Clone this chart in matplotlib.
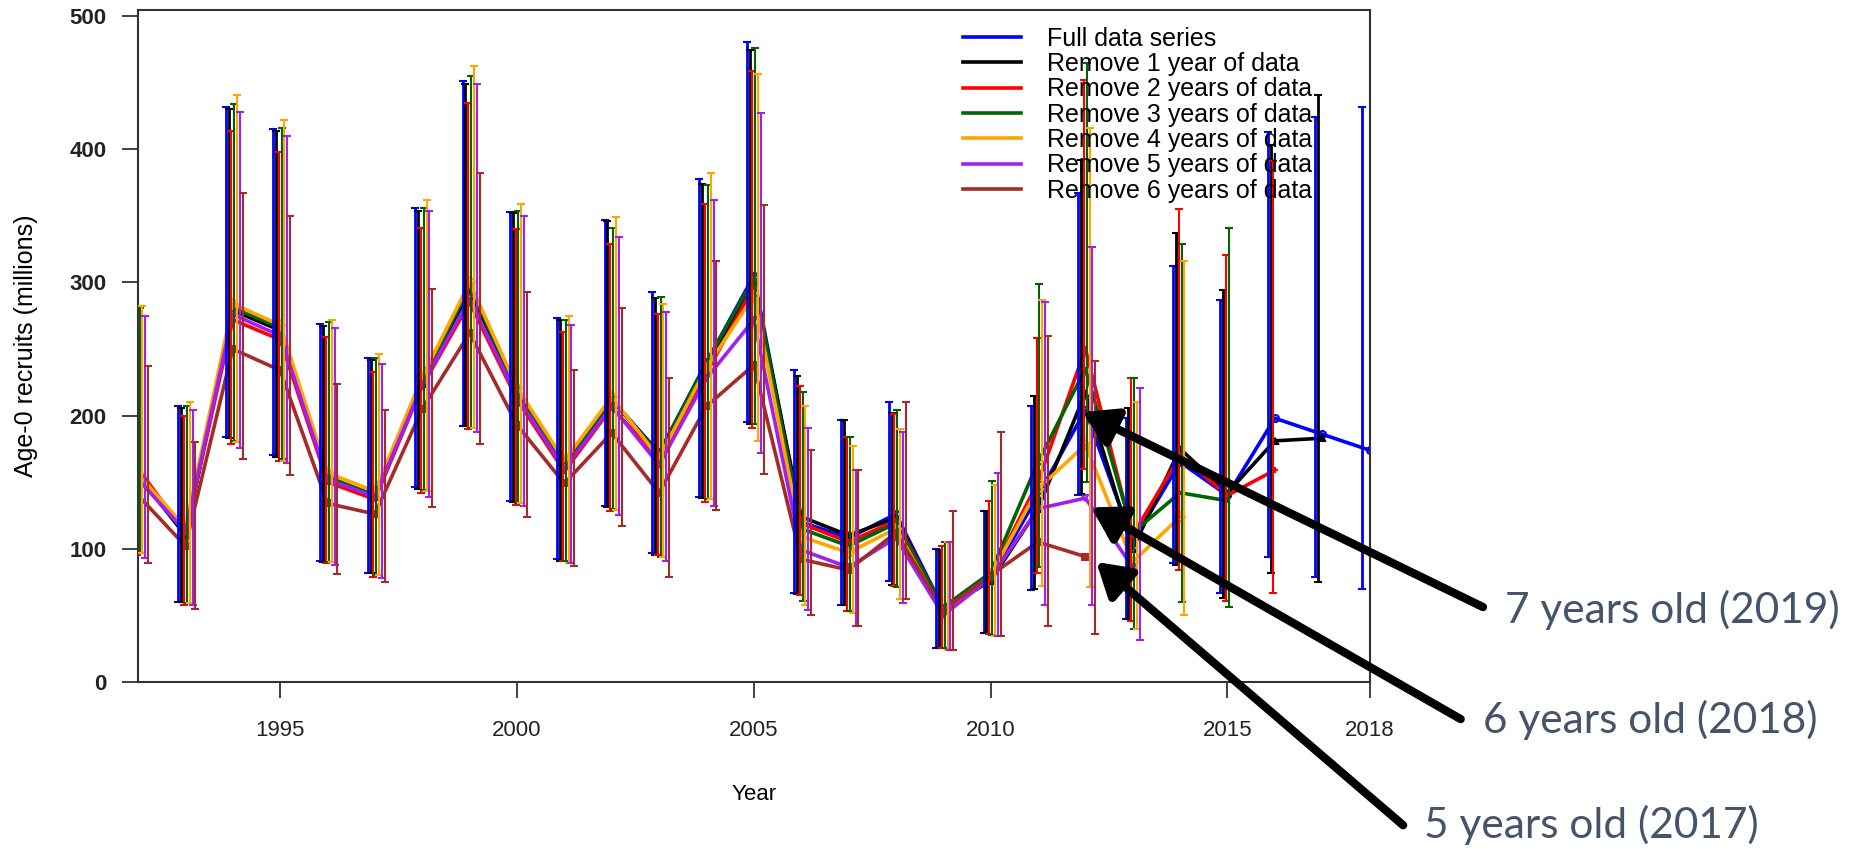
import numpy as np
import matplotlib.pyplot as plt

# years of the full series
years = np.arange(1992, 2019)

# Full data series
full_mid = [155, 110, 280, 265, 153, 140, 225, 296, 218, 163, 212, 172, 240, 305, 120, 108, 126, 55, 78, 140, 204, 105, 165, 140, 198, 186, 174]
full_hi = [282, 207, 432, 415, 269, 243, 356, 451, 353, 273, 347, 293, 378, 481, 234, 197, 210, 100, 128, 207, 367, 198, 312, 287, 413, 424, 432]
full_lo = [97, 60, 184, 170, 91, 82, 146, 192, 136, 92, 132, 97, 139, 195, 67, 58, 76, 25, 37, 69, 140, 47, 89, 67, 94, 79, 70]

# Remove 1 year
rm1_mid = [156, 110, 279, 264, 152, 139, 224, 294, 217, 163, 212, 171, 238, 300, 124, 110, 123, 54, 76, 130, 217, 100, 175, 142, 181, 183]
rm1_hi = [281, 206, 430, 414, 267, 242, 354, 449, 352, 272, 346, 288, 374, 475, 230, 197, 202, 99, 128, 215, 392, 206, 337, 294, 403, 441]
rm1_lo = [97, 60, 183, 169, 90, 82, 145, 192, 135, 91, 131, 95, 138, 194, 66, 58, 73, 25, 37, 70, 141, 47, 88, 63, 82, 75]

# Remove 2 years
rm2_mid = [160, 112, 272, 257, 150, 137, 222, 285, 212, 158, 206, 168, 232, 297, 119, 105, 121, 55, 80, 150, 250, 110, 170, 140, 159]
rm2_hi = [270, 200, 414, 398, 259, 233, 341, 435, 340, 263, 329, 276, 359, 459, 222, 184, 201, 102, 136, 258, 452, 228, 355, 321, 391]
rm2_lo = [95, 58, 179, 166, 89, 79, 142, 190, 133, 91, 128, 95, 135, 191, 65, 53, 72, 25, 36, 82, 160, 46, 84, 61, 67]

# Remove 3 years
rm3_mid = [154, 112, 281, 266, 154, 140, 226, 297, 219, 164, 212, 171, 240, 303, 115, 102, 119, 56, 82, 165, 235, 112, 142, 136]
rm3_hi = [281, 207, 434, 416, 270, 243, 356, 455, 354, 272, 341, 289, 373, 476, 218, 184, 204, 105, 151, 299, 465, 228, 329, 341]
rm3_lo = [97, 59, 181, 167, 90, 80, 144, 191, 134, 91, 130, 94, 137, 194, 61, 53, 71, 25, 35, 86, 150, 40, 60, 56]

# Remove 4 years
rm4_mid = [156, 116, 284, 268, 157, 143, 229, 300, 221, 166, 214, 168, 236, 290, 109, 97, 115, 52, 80, 145, 178, 90, 124]
rm4_hi = [282, 210, 441, 422, 272, 246, 362, 463, 359, 275, 349, 284, 382, 457, 207, 177, 190, 105, 148, 287, 416, 210, 316]
rm4_lo = [97, 59, 180, 166, 90, 80, 143, 191, 134, 89, 129, 94, 137, 181, 58, 52, 62, 24, 34, 72, 71, 40, 50]

# Remove 5 years
rm5_mid = [152, 113, 276, 260, 152, 139, 223, 288, 214, 160, 207, 163, 228, 272, 99, 86, 108, 50, 78, 130, 138, 86]
rm5_hi = [275, 204, 428, 410, 266, 239, 354, 449, 350, 268, 334, 278, 362, 427, 191, 159, 188, 105, 157, 285, 327, 221]
rm5_lo = [93, 58, 176, 164, 88, 78, 139, 188, 132, 89, 125, 91, 132, 172, 54, 42, 59, 24, 34, 58, 58, 31]

# Remove 6 years
rm6_mid = [140, 102, 250, 234, 134, 126, 205, 262, 193, 149, 187, 142, 207, 238, 92, 84, 112, 54, 80, 105, 94]
rm6_hi = [237, 180, 367, 350, 224, 204, 295, 382, 293, 234, 281, 228, 316, 358, 174, 159, 210, 128, 188, 260, 241]
rm6_lo = [89, 55, 167, 155, 81, 75, 131, 179, 124, 87, 117, 79, 129, 156, 50, 42, 62, 24, 34, 42, 36]

labels = ['Full data series', 'Remove 1 year of data', 'Remove 2 years of data',
          'Remove 3 years of data', 'Remove 4 years of data', 'Remove 5 years of data',
          'Remove 6 years of data']
colors = ['#0000FF', '#000000', '#FF0000', '#006400', '#FFA500', '#A020F0', '#A52A2A']
markers = ['o', '^', '+', 'x', 'D', 'v', 's']
offsets = [-0.15, -0.09, -0.03, 0.03, 0.09, 0.15, 0.21]

series = [(full_mid, full_lo, full_hi), (rm1_mid, rm1_lo, rm1_hi), (rm2_mid, rm2_lo, rm2_hi),
          (rm3_mid, rm3_lo, rm3_hi), (rm4_mid, rm4_lo, rm4_hi), (rm5_mid, rm5_lo, rm5_hi),
          (rm6_mid, rm6_lo, rm6_hi)]

plt.rcParams['font.family'] = ['Liberation Sans', 'DejaVu Sans']

fig = plt.figure(figsize=(18.56, 8.49), dpi=100)
ax = fig.add_axes([0.0744, 0.197, 0.6635, 0.7912])

for i, (mid, lo, hi) in enumerate(series):
    mid = np.array(mid)
    x = years[:len(mid)]
    ax.plot(x, mid, color=colors[i], lw=2.6, marker=markers[i], ms=5,
            mfc='none' if markers[i] in ('o', '^', 'D', 'v') else colors[i], mew=1.5, zorder=2)
    yerr = [mid - np.array(lo), np.array(hi) - mid]
    ax.errorbar(x + offsets[i], mid, yerr=yerr, fmt='none', ecolor=colors[i],
                elinewidth=2.0 if i < 2 else 1.5, capsize=3, capthick=1.5, zorder=3)

ax.set_xlim(1992, 2018)
ax.set_ylim(0, 504.7)
ax.set_xticks([1995, 2000, 2005, 2010, 2015, 2018])
ax.set_yticks([0, 100, 200, 300, 400, 500])
ax.tick_params(axis='both', length=11.5, width=1.3, colors='#333333', labelcolor='#222222')
ax.tick_params(axis='x', pad=16, labelsize=16)
ax.tick_params(axis='y', pad=11, labelsize=16)
for lab in ax.get_yticklabels():
    lab.set_fontweight('bold')
for s in ax.spines.values():
    s.set_linewidth(1.5)
    s.set_color('#333333')

ax.set_ylabel('Age-0 recruits (millions)', fontsize=18)
ax.yaxis.set_label_coords(-0.081, 0.5)
ax.set_xlabel('Year', fontsize=16)
ax.xaxis.set_label_coords(0.5, -0.152)

# legend drawn by hand, no frame
for i in range(len(labels)):
    ly = 0.960 - i * 0.0377
    ax.plot([0.670, 0.717], [ly, ly], transform=ax.transAxes, color=colors[i], lw=2.6, clip_on=False)
    ax.text(0.738, ly - 0.013, labels[i], transform=ax.transAxes, fontsize=18, va='baseline')

# annotation arrows
arrow_kw = dict(arrowstyle='-|>,head_length=0.9,head_width=0.55', lw=6, color='black',
                shrinkA=0, shrinkB=0, mutation_scale=22)
ax.annotate('', xy=(2011.94, 202.6), xycoords='data', xytext=(0.799, 0.285),
            textcoords='figure fraction', arrowprops=arrow_kw, annotation_clip=False)
ax.annotate('', xy=(2012.13, 131), xycoords='data', xytext=(0.787, 0.153),
            textcoords='figure fraction', arrowprops=arrow_kw, annotation_clip=False)
ax.annotate('', xy=(2012.23, 90), xycoords='data', xytext=(0.756, 0.028),
            textcoords='figure fraction', arrowprops=arrow_kw, annotation_clip=False)

txt_kw = dict(fontsize=30.5, color='#44546A', family=['Lato', 'DejaVu Sans'], va='baseline')
fig.text(0.811, 0.266, '7 years old (2019)', **txt_kw)
fig.text(0.799, 0.137, '6 years old (2018)', **txt_kw)
fig.text(0.767, 0.013, '5 years old (2017)', **txt_kw)

fig.savefig('out.png', dpi=100)
